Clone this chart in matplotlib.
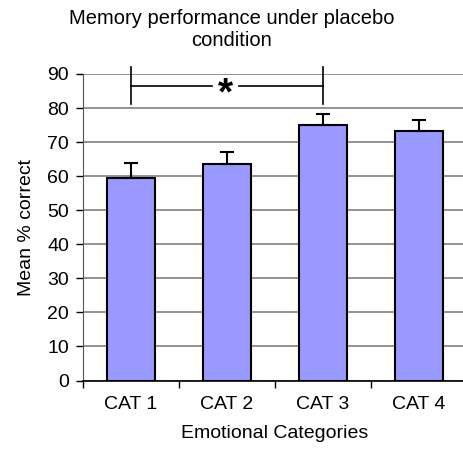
import matplotlib
matplotlib.use("Agg")
import matplotlib.pyplot as plt
import numpy as np

plt.rcParams['font.family'] = ['Liberation Sans', 'DejaVu Sans']

categories = ['CAT 1', 'CAT 2', 'CAT 3', 'CAT 4']
means = [59.5, 63.5, 75.1, 73.2]
errors = [4.3, 3.6, 3.1, 3.3]
yticks = [0, 10, 20, 30, 40, 50, 60, 70, 80, 90]


def main():
    fig = plt.figure(figsize=(4.64, 4.5), dpi=100)
    # axes runs a little past the right edge of the figure, as in the original
    ax = fig.add_axes([83 / 464, 1 - 380.5 / 450, 384 / 464, 306.5 / 450])

    x = np.arange(len(categories))
    ax.bar(x, means, width=0.51, color='#9999ff', edgecolor='black',
           linewidth=1.5, zorder=3)
    ax.errorbar(x, means, yerr=[np.zeros(len(errors)), errors], fmt='none',
                ecolor='black', elinewidth=1.5, capsize=5, capthick=1.5,
                zorder=4)

    ax.set_xlim(-0.5, 3.5)
    ax.set_ylim(0, 90)
    ax.set_yticks(yticks)
    ax.yaxis.grid(True, color='#808080', linewidth=1.2, zorder=0)
    ax.set_axisbelow(True)

    for s in ['top', 'right']:
        ax.spines[s].set_visible(False)
    ax.spines['left'].set_color('#555555')
    ax.spines['bottom'].set_color('black')
    ax.spines['bottom'].set_linewidth(1.2)

    ax.set_xticks(x)
    ax.set_xticklabels(categories)
    ax.set_xticks(np.arange(-0.5, 4.0, 1.0), minor=True)
    ax.tick_params(axis='x', which='major', length=0, pad=11, labelsize=14)
    ax.tick_params(axis='x', which='minor', length=5, width=1, direction='out')
    ax.tick_params(axis='y', length=5, width=1, labelsize=14, pad=5)

    ax.set_xlabel('Emotional Categories', fontsize=14, labelpad=9)
    ax.set_ylabel('Mean % correct', fontsize=14, labelpad=9)

    # significance bracket between CAT 1 and CAT 3
    ax.plot([0, 0], [81.2, 92], color='black', lw=1.2, clip_on=False, zorder=5)
    ax.plot([2, 2], [81.2, 92], color='black', lw=1.2, clip_on=False, zorder=5)
    ax.plot([0, 0.84], [86.4, 86.4], color='black', lw=1.2, zorder=5)
    ax.plot([1.12, 2], [86.4, 86.4], color='black', lw=1.2, zorder=5)
    ax.text(0.98, 84.0, '*', ha='center', va='center', fontsize=28,
            fontweight='bold', zorder=5)

    fig.text(0.5, 1 - 9 / 450, 'Memory performance under placebo\ncondition',
             ha='center', va='top', fontsize=14.5, linespacing=1.2)

    fig.savefig('out.png', dpi=100)


if __name__ == '__main__':
    main()
